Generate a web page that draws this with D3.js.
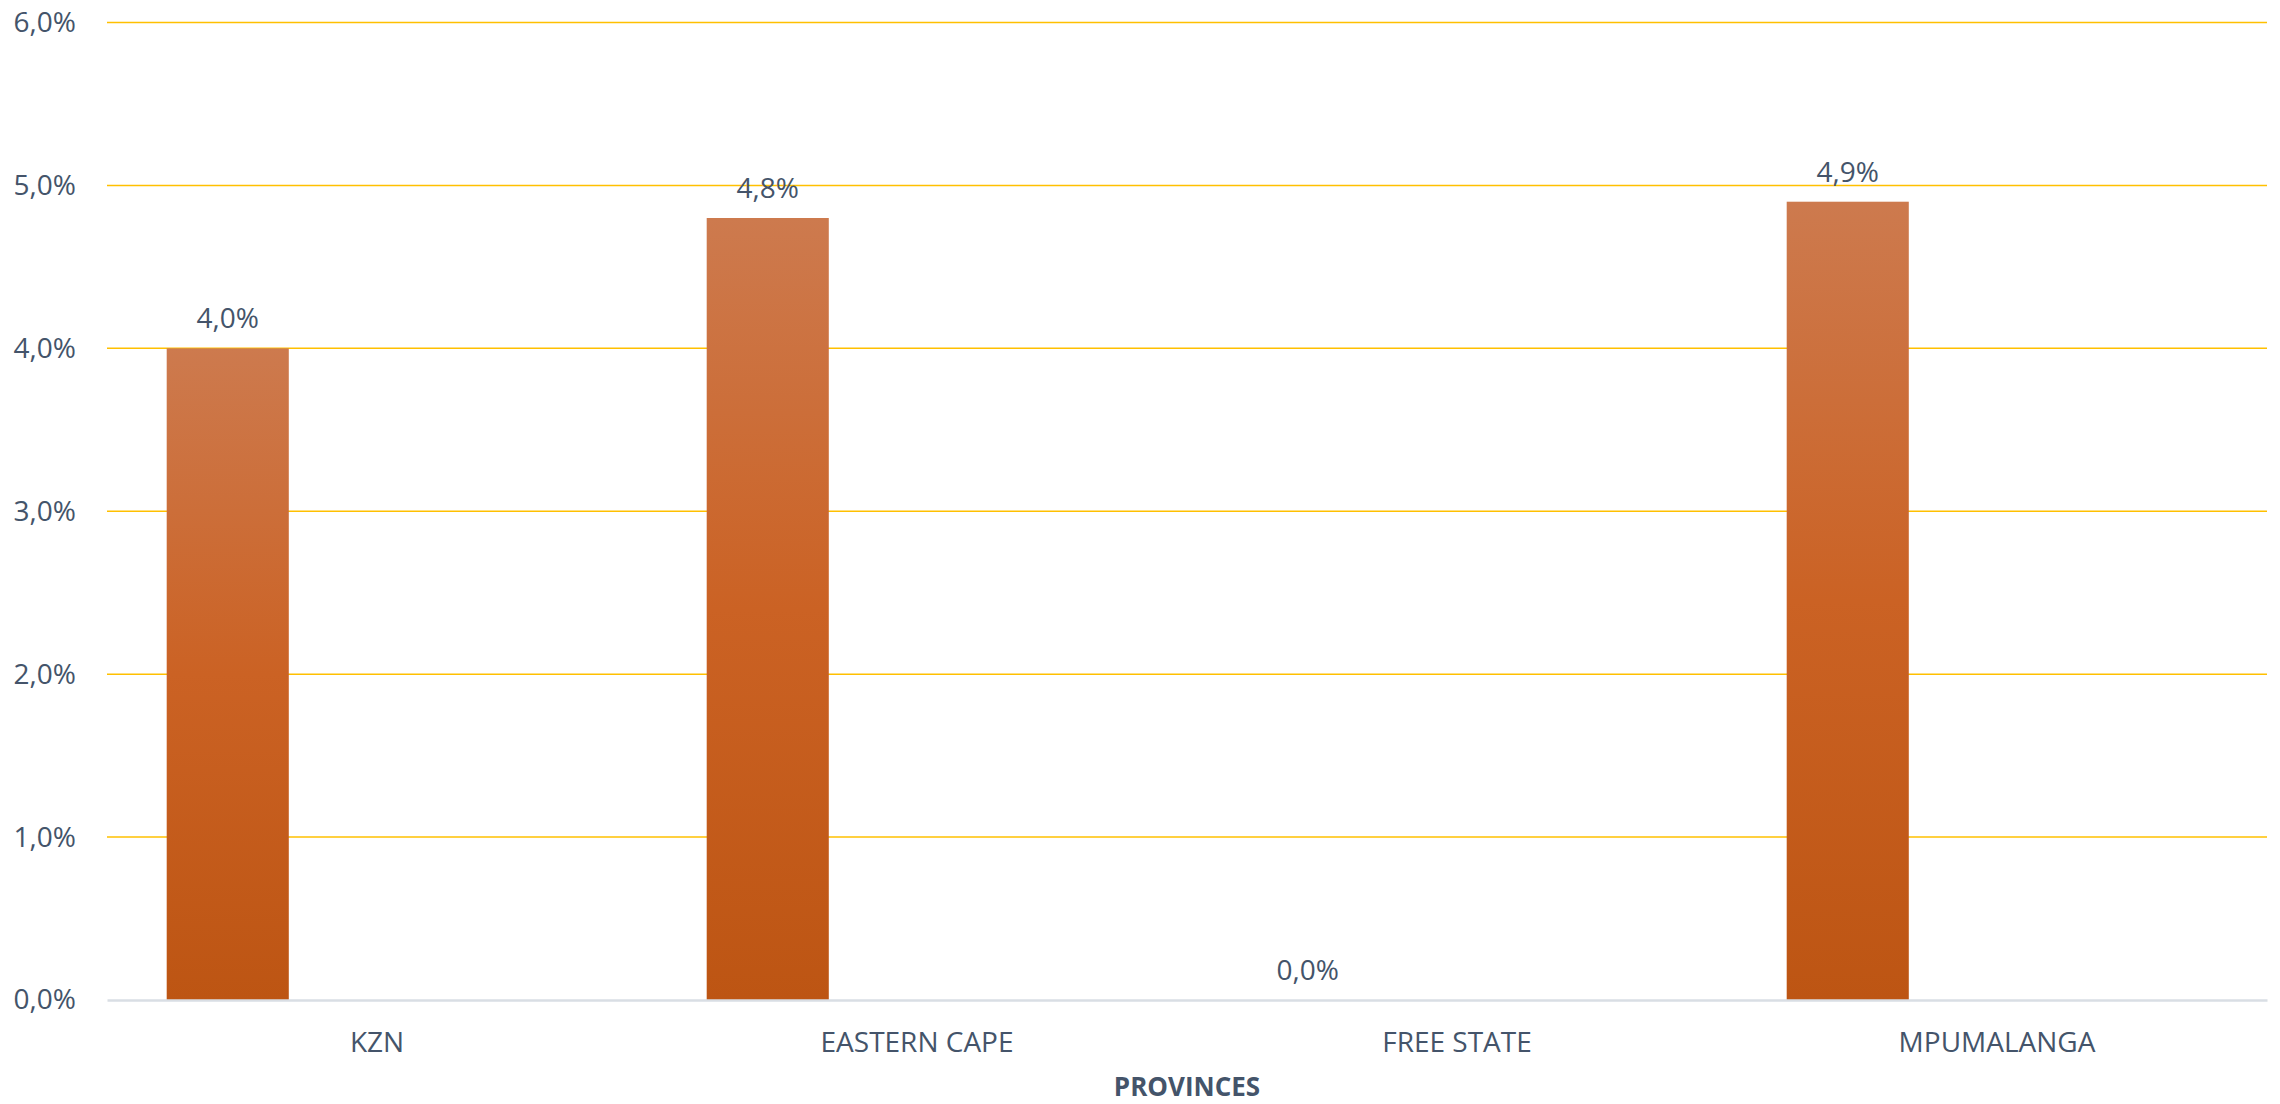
<!DOCTYPE html>
<html>
<head>
<meta charset="utf-8">
<script src="https://cdn.jsdelivr.net/npm/d3@7"></script>
<style>
  html, body { margin: 0; padding: 0; background: #ffffff; }
  svg { display: block; }
  text { font-family: "Open Sans", "Noto Sans", sans-serif; fill: #44546A; }
</style>
</head>
<body>
<svg id="chart" width="2280" height="1104"></svg>
<script>
// Share per province (percent)
const provinces = ["KZN", "EASTERN CAPE", "FREE STATE", "MPUMALANGA"];
const shares = [4.0, 4.8, 0.0, 4.9];
const yTicks = [0, 1, 2, 3, 4, 5, 6];
const xAxisTitle = "PROVINCES";

const W = 2280, H = 1104;
const margin = { top: 22.5, right: 13, bottom: 104, left: 107 };
const plotW = W - margin.left - margin.right;
const plotH = H - margin.top - margin.bottom;

const fmt = v => d3.format(".1f")(v).replace(".", ",") + "%";

const svg = d3.select("#chart");

// Vertical gradient applied to each bar
const defs = svg.append("defs");
const grad = defs.append("linearGradient")
  .attr("id", "barFill")
  .attr("x1", 0).attr("y1", 0).attr("x2", 0).attr("y2", 1);
grad.append("stop").attr("offset", "0%").attr("stop-color", "#CD7A4E");
grad.append("stop").attr("offset", "50%").attr("stop-color", "#CB6224");
grad.append("stop").attr("offset", "100%").attr("stop-color", "#BD5513");

const g = svg.append("g").attr("transform", `translate(${margin.left},${margin.top})`);

const x = d3.scaleBand().domain(provinces).range([0, plotW]).paddingInner(0).paddingOuter(0);
// Bars sit in the left part of each category slot
const slot = d3.scaleBand().domain(["bar", "rest"]).range([0, x.bandwidth()])
  .paddingInner(0.591).paddingOuter(0.2);

const y = d3.scaleLinear().domain([0, 6]).range([plotH, 0]);

// Gridlines
g.append("g")
  .selectAll("line")
  .data(yTicks.filter(t => t > 0))
  .join("line")
  .attr("x1", 0).attr("x2", plotW)
  .attr("y1", d => y(d)).attr("y2", d => y(d))
  .attr("stroke", "#FFC000")
  .attr("stroke-width", 1.5);

// Y axis labels
const yAxis = g.append("g")
  .call(d3.axisLeft(y).tickValues(yTicks).tickFormat(fmt).tickSize(0).tickPadding(31));
yAxis.select(".domain").remove();
yAxis.selectAll("text")
  .attr("font-size", 28)
  .attr("font-family", "'Open Sans', sans-serif")
  .attr("fill", "#44546A")
  .attr("dy", "0.32em");

// Bars
const barData = provinces.map((p, i) => ({ p, v: shares[i] }));
g.append("g")
  .selectAll("rect")
  .data(barData.filter(d => d.v > 0))
  .join("rect")
  .attr("x", d => x(d.p) + slot("bar"))
  .attr("width", slot.bandwidth())
  .attr("y", d => y(d.v))
  .attr("height", d => y(0) - y(d.v))
  .attr("fill", "url(#barFill)");

// Value labels
g.append("g")
  .selectAll("text")
  .data(barData)
  .join("text")
  .attr("x", d => x(d.p) + slot("bar") + slot.bandwidth() / 2)
  .attr("y", d => y(d.v) - 20)
  .attr("text-anchor", "middle")
  .attr("font-size", 28)
  .text(d => fmt(d.v));

// X axis baseline and category labels
const xAxis = g.append("g")
  .attr("transform", `translate(0,${plotH})`)
  .call(d3.axisBottom(x).tickSize(0).tickPadding(32));
xAxis.select(".domain")
  .attr("stroke", "#D9DEE4")
  .attr("stroke-width", 2.5);
xAxis.selectAll("text")
  .attr("font-size", 28)
  .attr("font-family", "'Open Sans', sans-serif")
  .attr("fill", "#44546A");

// Axis title
g.append("text")
  .attr("x", plotW / 2)
  .attr("y", plotH + 96)
  .attr("text-anchor", "middle")
  .attr("font-size", 26)
  .attr("font-weight", "bold")
  .text(xAxisTitle);
</script>
</body>
</html>
